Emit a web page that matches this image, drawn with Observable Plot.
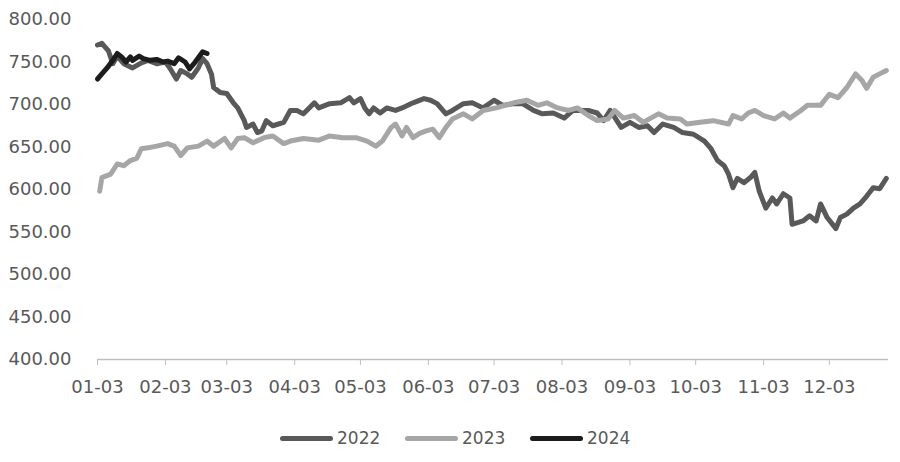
<!DOCTYPE html>
<html>
<head>
<meta charset="utf-8">
<script src="https://cdn.jsdelivr.net/npm/d3@7"></script>
<script src="https://cdn.jsdelivr.net/npm/@observablehq/plot@0.6"></script>
<style>
  html, body { margin: 0; padding: 0; background: #ffffff; }
  #wrap { width: 900px; height: 462px; position: relative; overflow: hidden; font-family: "DejaVu Sans", sans-serif; }
  #legend { position: absolute; left: 0; top: 405px; width: 900px; height: 57px; }
  .item { position: absolute; top: 22px; height: 22px; display: flex; align-items: center; color: #595959; font-size: 17px; }
  .sw { width: 53px; height: 5px; border-radius: 3px; margin-right: 4px; }
</style>
</head>
<body>
<div id="wrap"><div id="chart"></div><div id="legend"></div></div>
<script>
// ---- data (month-day, value) ----
const seriesNames = ["2022", "2023", "2024"];
const seriesColors = ["#595959", "#a6a6a6", "#1c1c1c"];

const dates2022 = ["01-03","01-05","01-08","01-10","01-12","01-15","01-19","01-23","01-26","01-30",
  "02-03","02-05","02-08","02-10","02-13","02-15","02-18","02-20","02-22","02-24","02-25","02-28",
  "03-03","03-06","03-08","03-11","03-12","03-15","03-17","03-19","03-21","03-24","03-29",
  "04-01","04-04","04-07","04-12","04-14","04-19","04-24","04-28","04-30",
  "05-03","05-05","05-07","05-09","05-12","05-15","05-19","05-22","05-27",
  "06-01","06-04","06-07","06-11","06-14","06-19","06-23","06-28",
  "07-03","07-07","07-12","07-16","07-21","07-25","07-30",
  "08-04","08-08","08-15","08-19","08-22","08-25","08-30",
  "09-03","09-07","09-11","09-14","09-18","09-23","09-27",
  "10-02","10-07","10-10","10-13","10-16","10-18","10-20","10-22","10-25","10-28","10-30",
  "11-01","11-04","11-07","11-09","11-12","11-15","11-16","11-21","11-24","11-27","11-29",
  "12-02","12-06","12-08","12-11","12-14","12-17","12-20","12-23","12-26","12-29"];
const values2022 = [770,772,763,748,757,748,743,749,752,748,
  750,743,730,740,736,732,743,754,748,736,720,714,
  713,702,696,681,673,677,667,669,681,675,679,
  693,693,689,702,696,701,702,708,702,
  707,696,689,696,690,696,693,696,702,
  707,705,701,689,693,701,702,696,
  705,699,701,701,693,689,690,
  684,693,693,690,681,693,673,
  679,673,675,667,677,673,667,
  665,657,648,634,628,618,602,613,608,614,620,
  598,578,590,583,595,590,559,563,569,563,583,
  567,554,567,571,578,583,592,602,601,613];

const dates2023 = ["01-04","01-05","01-09","01-12","01-15","01-18","01-21","01-23","01-26","01-30",
  "02-04","02-07","02-10","02-13","02-18","02-22","02-25",
  "03-02","03-05","03-08","03-11","03-15","03-20","03-24","03-29",
  "04-01","04-07","04-14","04-19","04-25",
  "05-01","05-06","05-10","05-13","05-17","05-19","05-22","05-24","05-27","05-30",
  "06-02","06-05","06-08","06-11","06-14","06-19","06-23","06-28",
  "07-04","07-12","07-18","07-23","07-27",
  "08-01","08-06","08-10","08-15","08-19","08-24","08-27","08-31",
  "09-05","09-09","09-16","09-20","09-26","09-29",
  "10-05","10-11","10-18","10-20","10-24","10-27","10-30",
  "11-03","11-08","11-12","11-15","11-20","11-23","11-29",
  "12-03","12-07","12-11","12-15","12-18","12-20","12-23","12-26","12-29"];
const values2023 = [598,614,618,630,628,634,637,648,649,651,
  654,651,640,649,651,657,651,
  660,649,660,661,655,661,663,654,
  657,660,658,663,661,
  661,657,651,657,673,677,663,673,661,666,
  669,671,661,673,683,689,683,693,
  696,702,705,699,702,
  696,693,696,687,681,683,693,684,
  687,679,689,684,683,677,
  679,681,677,687,683,690,693,
  687,683,690,684,693,699,699,
  712,708,720,736,728,719,732,736,740];

const dates2024 = ["01-03","01-05","01-07","01-08","01-10","01-12","01-14","01-16","01-18","01-19",
  "01-22","01-24","01-27","01-30","02-02","02-04","02-07","02-09","02-12","02-14","02-16","02-18","02-20","02-22"];
const values2024 = [730,736,742,745,752,760,756,750,756,752,
  757,754,752,753,750,751,748,755,750,742,748,755,762,760];

const xTickLabels = ["01-03","02-03","03-03","04-03","05-03","06-03","07-03","08-03","09-03","10-03","11-03","12-03"];
const yTicks = [400, 450, 500, 550, 600, 650, 700, 750, 800];

// ---- build ----
const parse = d3.utcParse("%Y-%m-%d");
const toDate = md => parse("2021-" + md);
const rows = [];
[[dates2022, values2022, "2022"], [dates2023, values2023, "2023"], [dates2024, values2024, "2024"]]
  .forEach(([ds, vs, s]) => ds.forEach((d, i) => rows.push({date: toDate(d), value: vs[i], series: s})));

const chart = Plot.plot({
  width: 900,
  height: 405,
  marginTop: 19,
  marginBottom: 46,
  marginLeft: 97,
  marginRight: 12,
  style: {fontFamily: "DejaVu Sans, sans-serif", fontSize: "18px", color: "#595959", background: "#ffffff"},
  x: {type: "utc", domain: [toDate("01-03"), toDate("12-30")]},
  y: {domain: [400, 800]},
  color: {domain: seriesNames, range: seriesColors},
  marks: [
    Plot.axisY({ticks: yTicks, tickSize: 0, tickPadding: 26, tickFormat: d => d.toFixed(2), label: null, fill: "#595959"}),
    Plot.axisX({ticks: xTickLabels.map(toDate), tickSize: 6, tickPadding: 15, tickFormat: d3.utcFormat("%m-%d"), label: null, stroke: "#bfbfbf", fill: "#595959"}),
    Plot.ruleY([400], {stroke: "#bfbfbf", strokeWidth: 1.5}),
    Plot.line(rows, {x: "date", y: "value", z: "series", stroke: "series", strokeWidth: 5, strokeLinejoin: "round", strokeLinecap: "round"})
  ]
});
document.getElementById("chart").appendChild(chart);

// ---- legend ----
const legend = document.getElementById("legend");
const lefts = [280, 405, 530];
seriesNames.forEach((s, i) => {
  const it = document.createElement("div");
  it.className = "item";
  it.style.left = lefts[i] + "px";
  const sw = document.createElement("div");
  sw.className = "sw";
  sw.style.background = seriesColors[i];
  const tx = document.createElement("span");
  tx.textContent = s;
  it.appendChild(sw); it.appendChild(tx);
  legend.appendChild(it);
});
</script>
</body>
</html>
